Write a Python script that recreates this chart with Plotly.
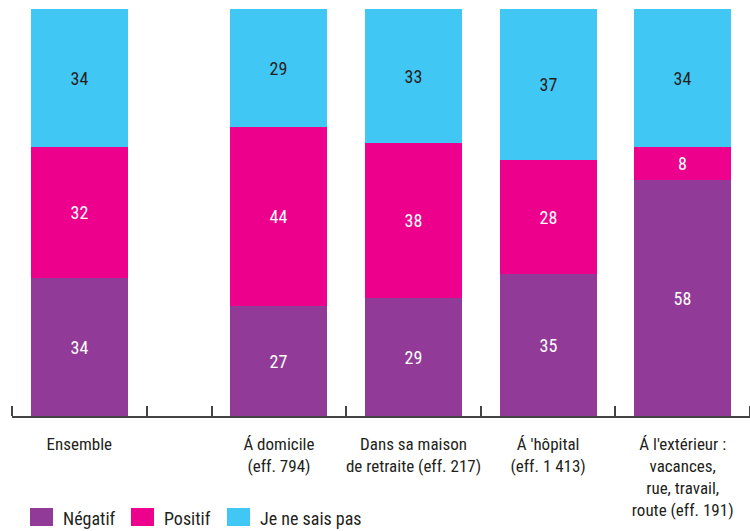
import plotly.graph_objects as go

categories = ["Ensemble", "Á domicile<br>(eff. 794)", "Dans sa maison<br>de retraite (eff. 217)",
              "Á 'hôpital<br>(eff. 1 413)", "Á l'extérieur :<br>vacances,<br>rue, travail,<br>route (eff. 191)"]
series_names = ["Négatif", "Positif", "Je ne sais pas"]
negatif = [34, 27, 29, 35, 58]
positif = [32, 44, 38, 28, 8]
nsp = [34, 29, 33, 37, 34]
colors = ["#923A97", "#EC008C", "#41C7F4"]
text_colors = ["white", "white", "#231F20"]

FONT = "Roboto Condensed, DejaVu Sans Condensed, sans-serif"

# Layout of category slots: Ensemble, then a narrower empty gap, then the four others
gap = 0.483
bounds = [0, 1, 1 + gap, 2 + gap, 3 + gap, 4 + gap, 5 + gap]
centers = [0.5] + [1 + gap + i + 0.5 for i in range(4)]

fig = go.Figure()
for name, vals, col, tc in zip(series_names, [negatif, positif, nsp], colors, text_colors):
    fig.add_trace(go.Bar(
        x=centers, y=vals, name=name, width=0.72,
        marker=dict(color=col, line=dict(width=0)),
        text=[str(v) for v in vals], textposition="inside", insidetextanchor="middle",
        textangle=0, constraintext="none",
        textfont=dict(family=FONT, size=18, color=tc),
        showlegend=False, hoverinfo="skip",
    ))

W, H = 750, 531
ml, mr, mt, mb = 12, 0, 9, 115
pw, ph = W - ml - mr, H - mt - mb

def px_x(p):
    return (p - ml) / pw

def px_y(p):
    return (H - mb - p) / ph

shapes = []
annotations = []
leg_sq = [30, 131, 227]
for name, col, sx in zip(series_names, colors, leg_sq):
    shapes.append(dict(type="rect", xref="paper", yref="paper",
                       x0=px_x(sx), x1=px_x(sx + 23), y0=px_y(526), y1=px_y(508),
                       fillcolor=col, line=dict(width=0)))
    annotations.append(dict(xref="paper", yref="paper", x=px_x(sx + 31), y=px_y(518),
                            text=name, showarrow=False, xanchor="left", yanchor="middle",
                            font=dict(family=FONT, size=18, color="#231F20")))

fig.update_layout(
    width=W, height=H,
    margin=dict(l=ml, r=mr, t=mt, b=mb),
    barmode="stack", bargap=0,
    plot_bgcolor="white", paper_bgcolor="white",
    xaxis=dict(range=[bounds[0], bounds[-1]], tickvals=centers, ticktext=categories,
               ticks="", showgrid=False, zeroline=False,
               showline=True, linecolor="#444444", linewidth=1.5,
               tickfont=dict(family=FONT, size=17, color="#231F20"),
               ticklabelstandoff=12,
               minor=dict(tickvals=bounds, ticks="inside", ticklen=10,
                          tickcolor="#444444", tickwidth=1.5, showgrid=False)),
    yaxis=dict(range=[0, 100], visible=False, showgrid=False),
    shapes=shapes, annotations=annotations,
)

fig.write_html("out.html", config={"displayModeBar": False},
               post_script="document.body.style.margin='0';")
